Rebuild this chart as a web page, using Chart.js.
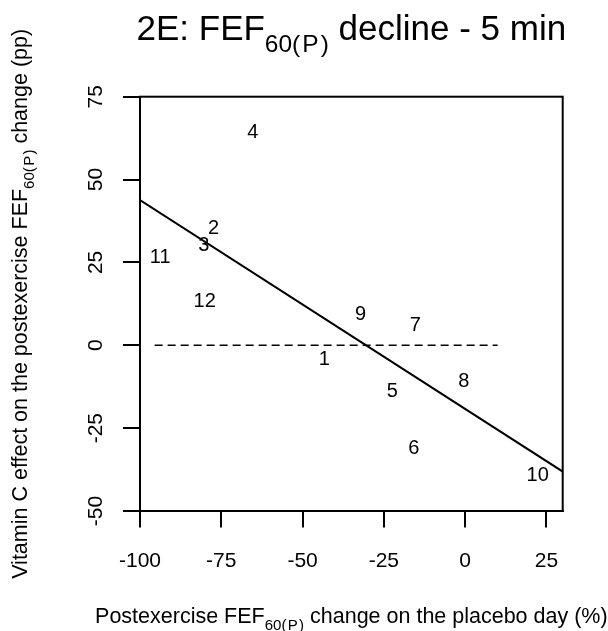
<!DOCTYPE html>
<html>
<head>
<meta charset="utf-8">
<script src="https://cdn.jsdelivr.net/npm/chart.js@4.4.0/dist/chart.umd.min.js"></script>
<style>
  html, body { margin: 0; padding: 0; background: #fff; }
  canvas { display: block; }
</style>
</head>
<body>
<canvas id="chart" width="608" height="631"></canvas>
<script>
// subject numbers, placebo-day change (x) and vitamin C effect (y)
var subjects = ['1', '2', '3', '4', '5', '6', '7', '8', '9', '10', '11', '12'];
var placeboChange = [-43.3, -77.4, -80.4, -65.3, -22.4, -15.8, -15.3, -0.4, -32.2, 22.3, -93.8, -80.1];
var vitCEffect = [-3.9, 35.6, 30.6, 64.8, -13.5, -30.6, 6.6, -10.5, 9.8, -38.8, 26.9, 13.7];

// regression line end points and the dashed zero reference
var fitX = [-100, 30];
var fitY = [43.8, -38.1];
var zeroX = [-95.5, 10];
var zeroY = [0, 0];

var xTicks = [-100, -75, -50, -25, 0, 25];
var yTicks = [-50, -25, 0, 25, 50, 75];

var FONT = '"Liberation Sans", Arial, Helvetica, sans-serif';
Chart.defaults.color = '#000';
Chart.defaults.font.family = FONT;

function pts(xs, ys) {
	return xs.map(function (x, i) { return { x: x, y: ys[i] }; });
}

// text with a subscript part, centred on (cx, cy) baseline
function drawRich(ctx, parts, size, cx, cy, rotate) {
	var sub = size * 0.7;
	var widths = parts.map(function (p) {
		ctx.font = (p[1] ? sub : size) + 'px ' + FONT;
		return ctx.measureText(p[0]).width;
	});
	var total = widths.reduce(function (a, b) { return a + b; }, 0);
	ctx.save();
	ctx.translate(cx, cy);
	if (rotate) ctx.rotate(-Math.PI / 2);
	ctx.fillStyle = '#000';
	ctx.textAlign = 'left';
	ctx.textBaseline = 'alphabetic';
	var x = -total / 2;
	parts.forEach(function (p, i) {
		ctx.font = (p[1] ? sub : size) + 'px ' + FONT;
		ctx.fillText(p[0], x, p[1] ? size * 0.33 : 0);
		x += widths[i];
	});
	ctx.restore();
}

var decorations = {
	id: 'decorations',
	afterDatasetsDraw: function (chart) {
		var ctx = chart.ctx;
		// subject numbers in place of markers
		var meta = chart.getDatasetMeta(0);
		ctx.save();
		ctx.font = '20px ' + FONT;
		ctx.fillStyle = '#000';
		ctx.textAlign = 'center';
		ctx.textBaseline = 'alphabetic';
		meta.data.forEach(function (el, i) {
			ctx.fillText(subjects[i], el.x, el.y + 20 * 0.36);
		});
		ctx.restore();
	},
	afterDraw: function (chart) {
		var ctx = chart.ctx;
		var a = chart.chartArea;
		ctx.save();
		ctx.strokeStyle = '#000';
		ctx.lineWidth = 2;
		ctx.strokeRect(a.left, a.top, a.right - a.left, a.bottom - a.top);
		ctx.restore();
		var mid = (a.left + a.right) / 2;
		drawRich(ctx, [['2E: FEF', false], ['60(\u200AP\u200A)', true], [' decline - 5 min', false]], 35, mid, 40, false);
		drawRich(ctx, [['Postexercise FEF', false], ['60(\u200AP\u200A)', true], [' change on the placebo day (%)', false]], 21.5, mid, 623, false);
		drawRich(ctx, [['Vitamin C effect on the postexercise FEF', false], ['60(\u200AP\u200A)', true], [' change (pp)', false]], 21.5, 27, (a.top + a.bottom) / 2, true);
	}
};

new Chart(document.getElementById('chart').getContext('2d'), {
	type: 'scatter',
	data: {
		datasets: [
			{
				data: pts(placeboChange, vitCEffect),
				pointRadius: 0,
				pointHoverRadius: 0
			},
			{
				data: pts(fitX, fitY),
				showLine: true,
				borderColor: '#000',
				borderWidth: 2,
				pointRadius: 0
			},
			{
				data: pts(zeroX, zeroY),
				showLine: true,
				borderColor: '#000',
				borderWidth: 1.5,
				borderDash: [8, 5],
				pointRadius: 0
			}
		]
	},
	options: {
		responsive: false,
		animation: false,
		devicePixelRatio: 1,
		layout: { padding: { top: 96.7, right: 45.3, left: 0, bottom: 0 } },
		plugins: {
			legend: { display: false },
			title: { display: false },
			tooltip: { enabled: false }
		},
		scales: {
			x: {
				type: 'linear',
				min: -100,
				max: 30,
				afterBuildTicks: function (s) { s.ticks = xTicks.map(function (v) { return { value: v }; }); },
				afterFit: function (s) { s.height = 120; },
				border: { display: true, color: '#000', width: 2 },
				grid: { drawOnChartArea: false, drawTicks: true, tickLength: 16.5, color: '#000', lineWidth: 2 },
				ticks: { font: { size: 21 }, padding: 21, maxRotation: 0, color: '#000' }
			},
			y: {
				type: 'linear',
				min: -50,
				max: 75,
				afterBuildTicks: function (s) { s.ticks = yTicks.map(function (v) { return { value: v }; }); },
				afterFit: function (s) { s.width = 140; },
				border: { display: true, color: '#000', width: 2 },
				grid: { drawOnChartArea: false, drawTicks: true, tickLength: 17, color: '#000', lineWidth: 2 },
				ticks: { font: { size: 21 }, padding: 12, minRotation: 90, crossAlign: 'center', color: '#000' }
			}
		}
	},
	plugins: [decorations]
});
</script>
</body>
</html>
